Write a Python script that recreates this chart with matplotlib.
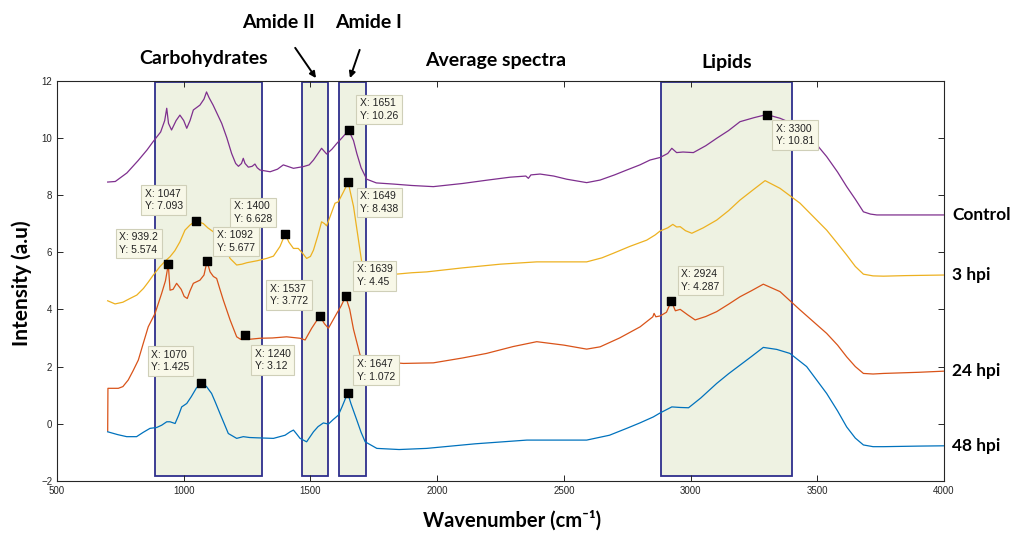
import numpy as np
import matplotlib
matplotlib.use('Agg')
import matplotlib.pyplot as plt
from matplotlib.patches import Rectangle
from matplotlib.transforms import blended_transform_factory

# ---- data ----
ctrl_x = [700, 730, 776, 820, 855, 879, 909, 925, 933, 940, 952, 970, 985, 1000, 1012, 1025, 1038, 1064,
          1080, 1090, 1100, 1116, 1150, 1170, 1189, 1205, 1216, 1228, 1235, 1242, 1255, 1270, 1281, 1290,
          1301, 1341, 1370, 1393, 1410, 1433, 1472, 1495, 1512, 1530, 1544, 1564, 1585, 1604, 1625, 1651,
          1670, 1683, 1700, 1722, 1760, 1827, 1900, 1985, 2100, 2200, 2288, 2350, 2360, 2370, 2406, 2460,
          2511, 2590, 2643, 2700, 2748, 2800, 2840, 2880, 2910, 2926, 2945, 2970, 3011, 3060, 3103, 3150,
          3195, 3250, 3300, 3353, 3400, 3432, 3480, 3537, 3580, 3616, 3650, 3682, 3710, 3735, 3800, 4000]
ctrl_y = [8.45, 8.47, 8.77, 9.2, 9.57, 9.86, 10.2, 10.6, 11.03, 10.5, 10.27, 10.6, 10.79, 10.6, 10.33, 10.6,
          10.97, 11.14, 11.35, 11.6, 11.4, 11.14, 10.5, 10.0, 9.45, 9.1, 9.0, 9.1, 9.28, 9.1, 8.97, 9.0, 9.08,
          8.95, 8.87, 8.81, 8.9, 9.05, 9.0, 8.93, 8.99, 9.05, 9.22, 9.45, 9.63, 9.43, 9.6, 9.8, 10.0, 10.26,
          9.9, 9.45, 8.95, 8.55, 8.42, 8.38, 8.33, 8.29, 8.4, 8.52, 8.62, 8.66, 8.58, 8.7, 8.73, 8.66,
          8.55, 8.43, 8.52, 8.7, 8.87, 9.05, 9.22, 9.31, 9.45, 9.63, 9.48, 9.5, 9.48, 9.72, 9.98, 10.25,
          10.56, 10.7, 10.81, 10.68, 10.5, 10.38, 9.95, 9.34, 8.8, 8.29, 7.85, 7.41, 7.33, 7.3, 7.3, 7.3]

hpi3_x = [700, 729, 760, 788, 815, 841, 860, 880, 906, 926, 946, 965, 985, 1005, 1025, 1047, 1077, 1095,
          1117, 1140, 1163, 1183, 1209, 1230, 1249, 1290, 1327, 1354, 1380, 1400, 1415, 1433, 1452, 1470,
          1485, 1500, 1512, 1530, 1544, 1555, 1564, 1580, 1597, 1610, 1630, 1649, 1670, 1690, 1705, 1720,
          1800, 1900, 1959, 2100, 2250, 2393, 2500, 2590, 2650, 2695, 2760, 2827, 2860, 2880, 2910, 2930,
          2945, 2959, 2980, 3005, 3050, 3103, 3150, 3195, 3250, 3294, 3353, 3432, 3537, 3580, 3616, 3650,
          3682, 3720, 3761, 3850, 4000]
hpi3_y = [4.30, 4.19, 4.25, 4.38, 4.5, 4.73, 4.95, 5.2, 5.49, 5.68, 5.84, 6.05, 6.36, 6.77, 6.95, 7.093,
          7.0, 6.85, 6.71, 6.45, 6.19, 5.78, 5.55, 5.58, 5.63, 5.7, 5.78, 5.86, 6.2, 6.628, 6.35, 6.13, 6.13,
          5.95, 5.78, 5.85, 6.07, 6.6, 7.06, 7.0, 6.92, 7.3, 7.71, 7.76, 8.1, 8.438, 7.6, 6.4, 5.5, 5.15,
          5.2, 5.28, 5.31, 5.45, 5.58, 5.66, 5.66, 5.66, 5.8, 5.96, 6.2, 6.42, 6.6, 6.74, 6.85, 6.97,
          6.88, 6.89, 6.75, 6.66, 6.85, 7.12, 7.45, 7.82, 8.2, 8.5, 8.23, 7.71, 6.77, 6.3, 5.9, 5.5,
          5.23, 5.17, 5.16, 5.18, 5.2]

hpi24_x = [700, 701, 742, 760, 781, 800, 821, 840, 860, 887, 913, 928, 939.2, 946, 958, 972, 990, 1002,
           1014, 1025, 1038, 1064, 1080, 1092, 1104, 1117, 1130, 1143, 1156, 1183, 1209, 1225, 1240, 1248,
           1255, 1301, 1350, 1406, 1459, 1479, 1505, 1537, 1555, 1571, 1604, 1620, 1639, 1655, 1670, 1696,
           1730, 1867, 1985, 2100, 2195, 2300, 2393, 2500, 2590, 2643, 2720, 2801, 2851, 2856, 2863, 2880,
           2905, 2924, 2940, 2959, 2990, 3018, 3060, 3103, 3150, 3195, 3240, 3287, 3353, 3432, 3537, 3580,
           3616, 3650, 3682, 3720, 3761, 3900, 4000]
hpi24_y = [-0.25, 1.24, 1.24, 1.3, 1.53, 1.85, 2.23, 2.8, 3.39, 3.86, 4.56, 5.0, 5.574, 4.67, 4.7, 4.91,
           4.7, 4.45, 4.38, 4.65, 4.91, 5.02, 5.2, 5.677, 5.31, 5.15, 5.08, 4.7, 4.33, 3.63, 3.04, 2.95,
           3.12, 2.98, 2.95, 2.99, 3.0, 3.04, 2.99, 2.93, 3.34, 3.772, 3.5, 3.34, 3.86, 4.1, 4.45, 4.0,
           3.3, 2.40, 2.2, 2.11, 2.13, 2.3, 2.46, 2.7, 2.87, 2.75, 2.61, 2.69, 3.0, 3.39, 3.74, 3.86, 3.74,
           3.77, 3.9, 4.287, 3.95, 4.0, 3.8, 3.63, 3.75, 3.92, 4.18, 4.44, 4.65, 4.88, 4.62, 3.98, 3.16,
           2.75, 2.34, 2.0, 1.76, 1.74, 1.76, 1.8, 1.84]

hpi48_x = [700, 740, 775, 814, 840, 867, 893, 913, 933, 946, 966, 980, 992, 1012, 1030, 1050, 1070, 1090,
           1110, 1125, 1143, 1160, 1176, 1209, 1235, 1260, 1288, 1354, 1400, 1420, 1433, 1445, 1459, 1485,
           1512, 1530, 1551, 1571, 1590, 1610, 1625, 1647, 1660, 1683, 1700, 1716, 1762, 1850, 1959, 2150,
           2354, 2590, 2680, 2748, 2800, 2853, 2880, 2926, 2960, 2992, 3040, 3103, 3150, 3195, 3240, 3287,
           3340, 3392, 3458, 3537, 3580, 3616, 3650, 3682, 3720, 3761, 3900, 4000]
hpi48_y = [-0.28, -0.38, -0.45, -0.45, -0.3, -0.16, -0.13, -0.05, 0.07, 0.07, 0.01, 0.3, 0.59, 0.71, 0.95,
           1.25, 1.425, 1.3, 1.06, 0.75, 0.36, 0.0, -0.34, -0.51, -0.45, -0.48, -0.49, -0.51, -0.4, -0.28,
           -0.22, -0.35, -0.51, -0.63, -0.28, -0.1, 0.03, -0.01, 0.15, 0.30, 0.6, 1.072, 0.7, 0.13, -0.3,
           -0.63, -0.86, -0.9, -0.86, -0.7, -0.57, -0.57, -0.4, -0.16, 0.03, 0.24, 0.38, 0.59, 0.57, 0.56,
           0.9, 1.41, 1.75, 2.05, 2.35, 2.67, 2.6, 2.46, 2.0, 1.06, 0.45, -0.11, -0.5, -0.74, -0.8, -0.8,
           -0.78, -0.77]

series_names = ['Control', '3 hpi', '24 hpi', '48 hpi']
series_colors = ['#7E2F8E', '#EDB120', '#D95319', '#0072BD']

# shaded band regions
region_lo = [885, 1465, 1613, 2885]
region_hi = [1310, 1570, 1720, 3400]
region_ymin, region_ymax = -1.83, 11.95

# data tips: x, y, label offset (pixels, box top-left relative to marker)
tip_x = [939.2, 1047, 1092, 1400, 1070, 1240, 1537, 1639, 1647, 1649, 1651, 2924, 3300]
tip_y = [5.574, 7.093, 5.677, 6.628, 1.425, 3.12, 3.772, 4.45, 1.072, 8.438, 10.26, 4.287, 10.81]
tip_dx = [-53, -55, 6, -55, -54, 6, -54, 7, 5, 8, 7, 6, 5]
tip_dy = [36, 36, 35, 37, 37, -10, 36, 36, 38, -5, 36, 36, -5]

head_font = ['Lato', 'DejaVu Sans']

fig = plt.figure(figsize=(10.12, 5.34), dpi=100)
ax = fig.add_axes([57 / 1012, 53 / 534, 887 / 1012, 400.5 / 534])

for lo, hi in zip(region_lo, region_hi):
    ax.add_patch(Rectangle((lo, region_ymin), hi - lo, region_ymax - region_ymin,
                           facecolor='#eef2e2', edgecolor='#2e2e8c', linewidth=1.3, zorder=1))

curves = [(ctrl_x, ctrl_y), (hpi3_x, hpi3_y), (hpi24_x, hpi24_y), (hpi48_x, hpi48_y)]
for (xs, ys), name, col in zip(curves, series_names, series_colors):
    ax.plot(xs, ys, color=col, lw=0.9, zorder=3)
    ax.annotate(name, xy=(xs[-1], ys[-1]), xytext=(8, 0), textcoords='offset pixels',
                ha='left', va='center', fontsize=12.5, fontweight='bold', family=head_font,
                annotation_clip=False)

# data tips
ax.scatter(tip_x, tip_y, marker='s', s=30, color='black', zorder=5)
for x, y, dx, dy in zip(tip_x, tip_y, tip_dx, tip_dy):
    ax.annotate('X: %s\nY: %s' % (('%g' % x), ('%g' % y)), xy=(x, y),
                xytext=(dx + 4, dy - 4), textcoords='offset pixels', ha='left', va='top',
                fontsize=7.5, family='Liberation Sans', color='#222222', linespacing=1.3,
                bbox=dict(boxstyle='square,pad=0.35', fc='#f8f8e8', ec='#cfcfb8', lw=0.8),
                zorder=6)

ax.set_xlim(500, 4000)
ax.set_ylim(-2, 12)
ax.set_xticks(np.arange(500, 4001, 500))
ax.set_yticks(np.arange(-2, 13, 2))
ax.tick_params(direction='in', top=True, right=True, labelsize=7, colors='#262626',
               length=4, width=0.7)
for lab in ax.get_xticklabels() + ax.get_yticklabels():
    lab.set_family('Liberation Sans')
for sp in ax.spines.values():
    sp.set_color('#262626')
    sp.set_linewidth(0.8)

# headings above the plot
trans = blended_transform_factory(ax.transData, ax.transAxes)
ax.text(1078, 1.056, 'Carbohydrates', transform=trans, ha='center', va='center',
        fontsize=14, fontweight='bold', family=head_font)
ax.text(2232, 1.051, 'Average spectra', transform=trans, ha='center', va='center',
        fontsize=14, fontweight='bold', family=head_font)
ax.text(3142, 1.046, 'Lipids', transform=trans, ha='center', va='center',
        fontsize=14, fontweight='bold', family=head_font)
ax.annotate('Amide II', xy=(1522, 1.006), xycoords=trans, xytext=(1372, 1.144), textcoords=trans,
            ha='center', va='center', fontsize=14, fontweight='bold', family=head_font,
            arrowprops=dict(arrowstyle='-|>', color='black', lw=1.4, shrinkA=12, shrinkB=0,
                            mutation_scale=9))
ax.annotate('Amide I', xy=(1656, 1.006), xycoords=trans, xytext=(1731, 1.144), textcoords=trans,
            ha='center', va='center', fontsize=14, fontweight='bold', family=head_font,
            arrowprops=dict(arrowstyle='-|>', color='black', lw=1.4, shrinkA=12, shrinkB=0,
                            mutation_scale=9))

fig.text(22 / 1012, 1 - 283 / 534, 'Intensity (a.u)', rotation=90, ha='center', va='center',
         fontsize=15, fontweight='bold', family=head_font)
fig.text(512 / 1012, 1 - 521 / 534, 'Wavenumber (cm\u207b\u00b9)', ha='center', va='center',
         fontsize=14.5, fontweight='bold', family=head_font)

fig.savefig('out.png', dpi=100)
